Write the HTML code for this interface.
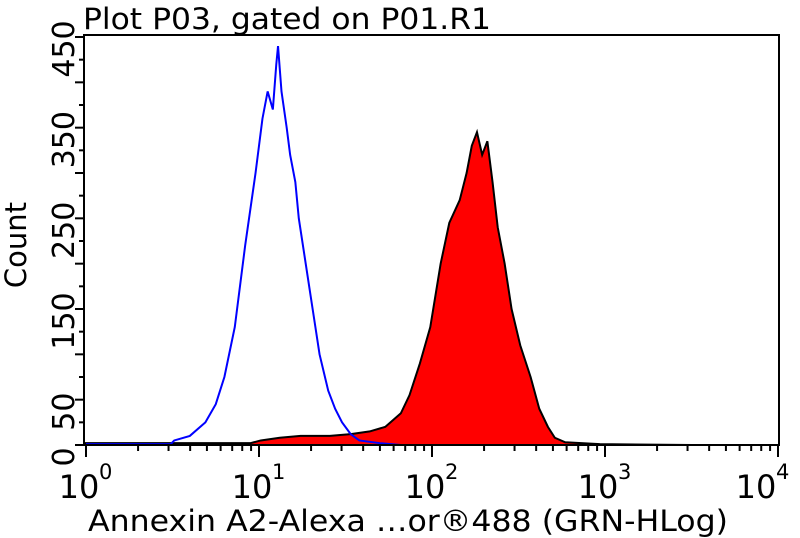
<!DOCTYPE html>
<html><head><meta charset="utf-8"><style>
body{margin:0;background:#fff;}
svg{display:block;font-family:"DejaVu Sans","Liberation Sans",sans-serif;}
</style></head><body>
<svg id="chart" width="800" height="538">
<text x="83" y="29" font-size="29" textLength="408" lengthAdjust="spacingAndGlyphs">Plot P03, gated on P01.R1</text>
<text x="88" y="531" font-size="29" textLength="640" lengthAdjust="spacingAndGlyphs">Annexin A2-Alexa …or®488 (GRN-HLog)</text>
<text transform="translate(26,245) rotate(-90)" font-size="29" text-anchor="middle">Count</text>
<g id="marks"></g>
<g id="axes"></g>
</svg>
<script>
const blueLog=[0,0.49,0.51,0.60,0.69,0.75,0.80,0.86,0.92,0.98,1.02,1.05,1.08,1.10,1.11,1.13,1.16,1.18,1.21,1.23,1.27,1.31,1.35,1.40,1.44,1.48,1.53,1.58,1.70,1.82,3.5];
const blueCount=[1,1,5,10,25,45,75,130,220,300,360,390,370,420,440,390,350,320,290,250,200,150,100,60,40,25,12,5,2,0,0];
const redLog=[0,0.95,1.01,1.12,1.24,1.41,1.53,1.64,1.73,1.82,1.87,1.93,1.99,2.05,2.10,2.16,2.20,2.23,2.26,2.29,2.32,2.35,2.38,2.42,2.46,2.51,2.57,2.62,2.67,2.71,2.77,2.97,3.5];
const redCount=[2,2,5,8,10,10,12,15,20,35,55,90,130,200,245,270,300,330,345,320,335,290,240,200,150,110,75,40,20,8,3,1,0];
const yTicks=[0,50,150,250,350,450];
const yTickLabels=["0","50","150","250","350","450"];
const xDecades=[0,1,2,3,4];

const L=84,R=779,T=35,B=445,X0=86,PXD=173;
const xs=v=>X0+v*PXD;
const ys=v=>B-(v/450)*(B-37);
const NS="http://www.w3.org/2000/svg";
const marks=document.getElementById('marks'),axes=document.getElementById('axes');
function mk(tag,attrs,parent){const e=document.createElementNS(NS,tag);for(const k in attrs)e.setAttribute(k,attrs[k]);parent.appendChild(e);return e;}

let d="M"+xs(redLog[0])+","+ys(0);
redLog.forEach((v,i)=>{d+=" L"+xs(v)+","+ys(redCount[i]);});
d+=" L"+xs(redLog[redLog.length-1])+","+ys(0)+"Z";
const rf=mk('path',{d:d,fill:'#ff0000',stroke:'#000','stroke-width':2},marks);


let bd="";
blueLog.forEach((v,i)=>{bd+=(i?" L":"M")+xs(v)+","+ys(blueCount[i]);});
const bl=mk('path',{d:bd,fill:'none',stroke:'#0000ff','stroke-width':2},marks);



const fr=mk('rect',{x:L,y:T,width:R-L,height:B-T,fill:'none',stroke:'#000','stroke-width':2},axes);


for(let v=0;v<=450;v+=25){mk('line',{x1:L-(v%50?5:9),x2:L,y1:ys(v),y2:ys(v),stroke:'#000','stroke-width':2},axes);}
yTicks.forEach((v,i)=>{
 const t=mk('text',{transform:`translate(${L-10},${ys(v)+12}) rotate(-90)`,'font-size':30,'text-anchor':'middle'},axes);
 t.textContent=yTickLabels[i];
 
 
});
xDecades.forEach(dd=>{
 mk('line',{x1:xs(dd),x2:xs(dd),y1:B,y2:B+12,stroke:'#000','stroke-width':2},axes);
 if(dd<4)for(let m=2;m<10;m++){const x=xs(dd+Math.log10(m));mk('line',{x1:x,x2:x,y1:B,y2:B+6,stroke:'#000','stroke-width':2},axes);}
 const off=dd===4?-15:0;
 const t=mk('text',{x:xs(dd)-7+off,y:498,'font-size':32,'text-anchor':'middle'},axes);
 t.textContent="10";
 
 
 const s=mk('text',{x:xs(dd)+13+off,y:479,'font-size':21},axes);
 s.textContent=String(dd);
 
 
});
</script>
</body></html>
